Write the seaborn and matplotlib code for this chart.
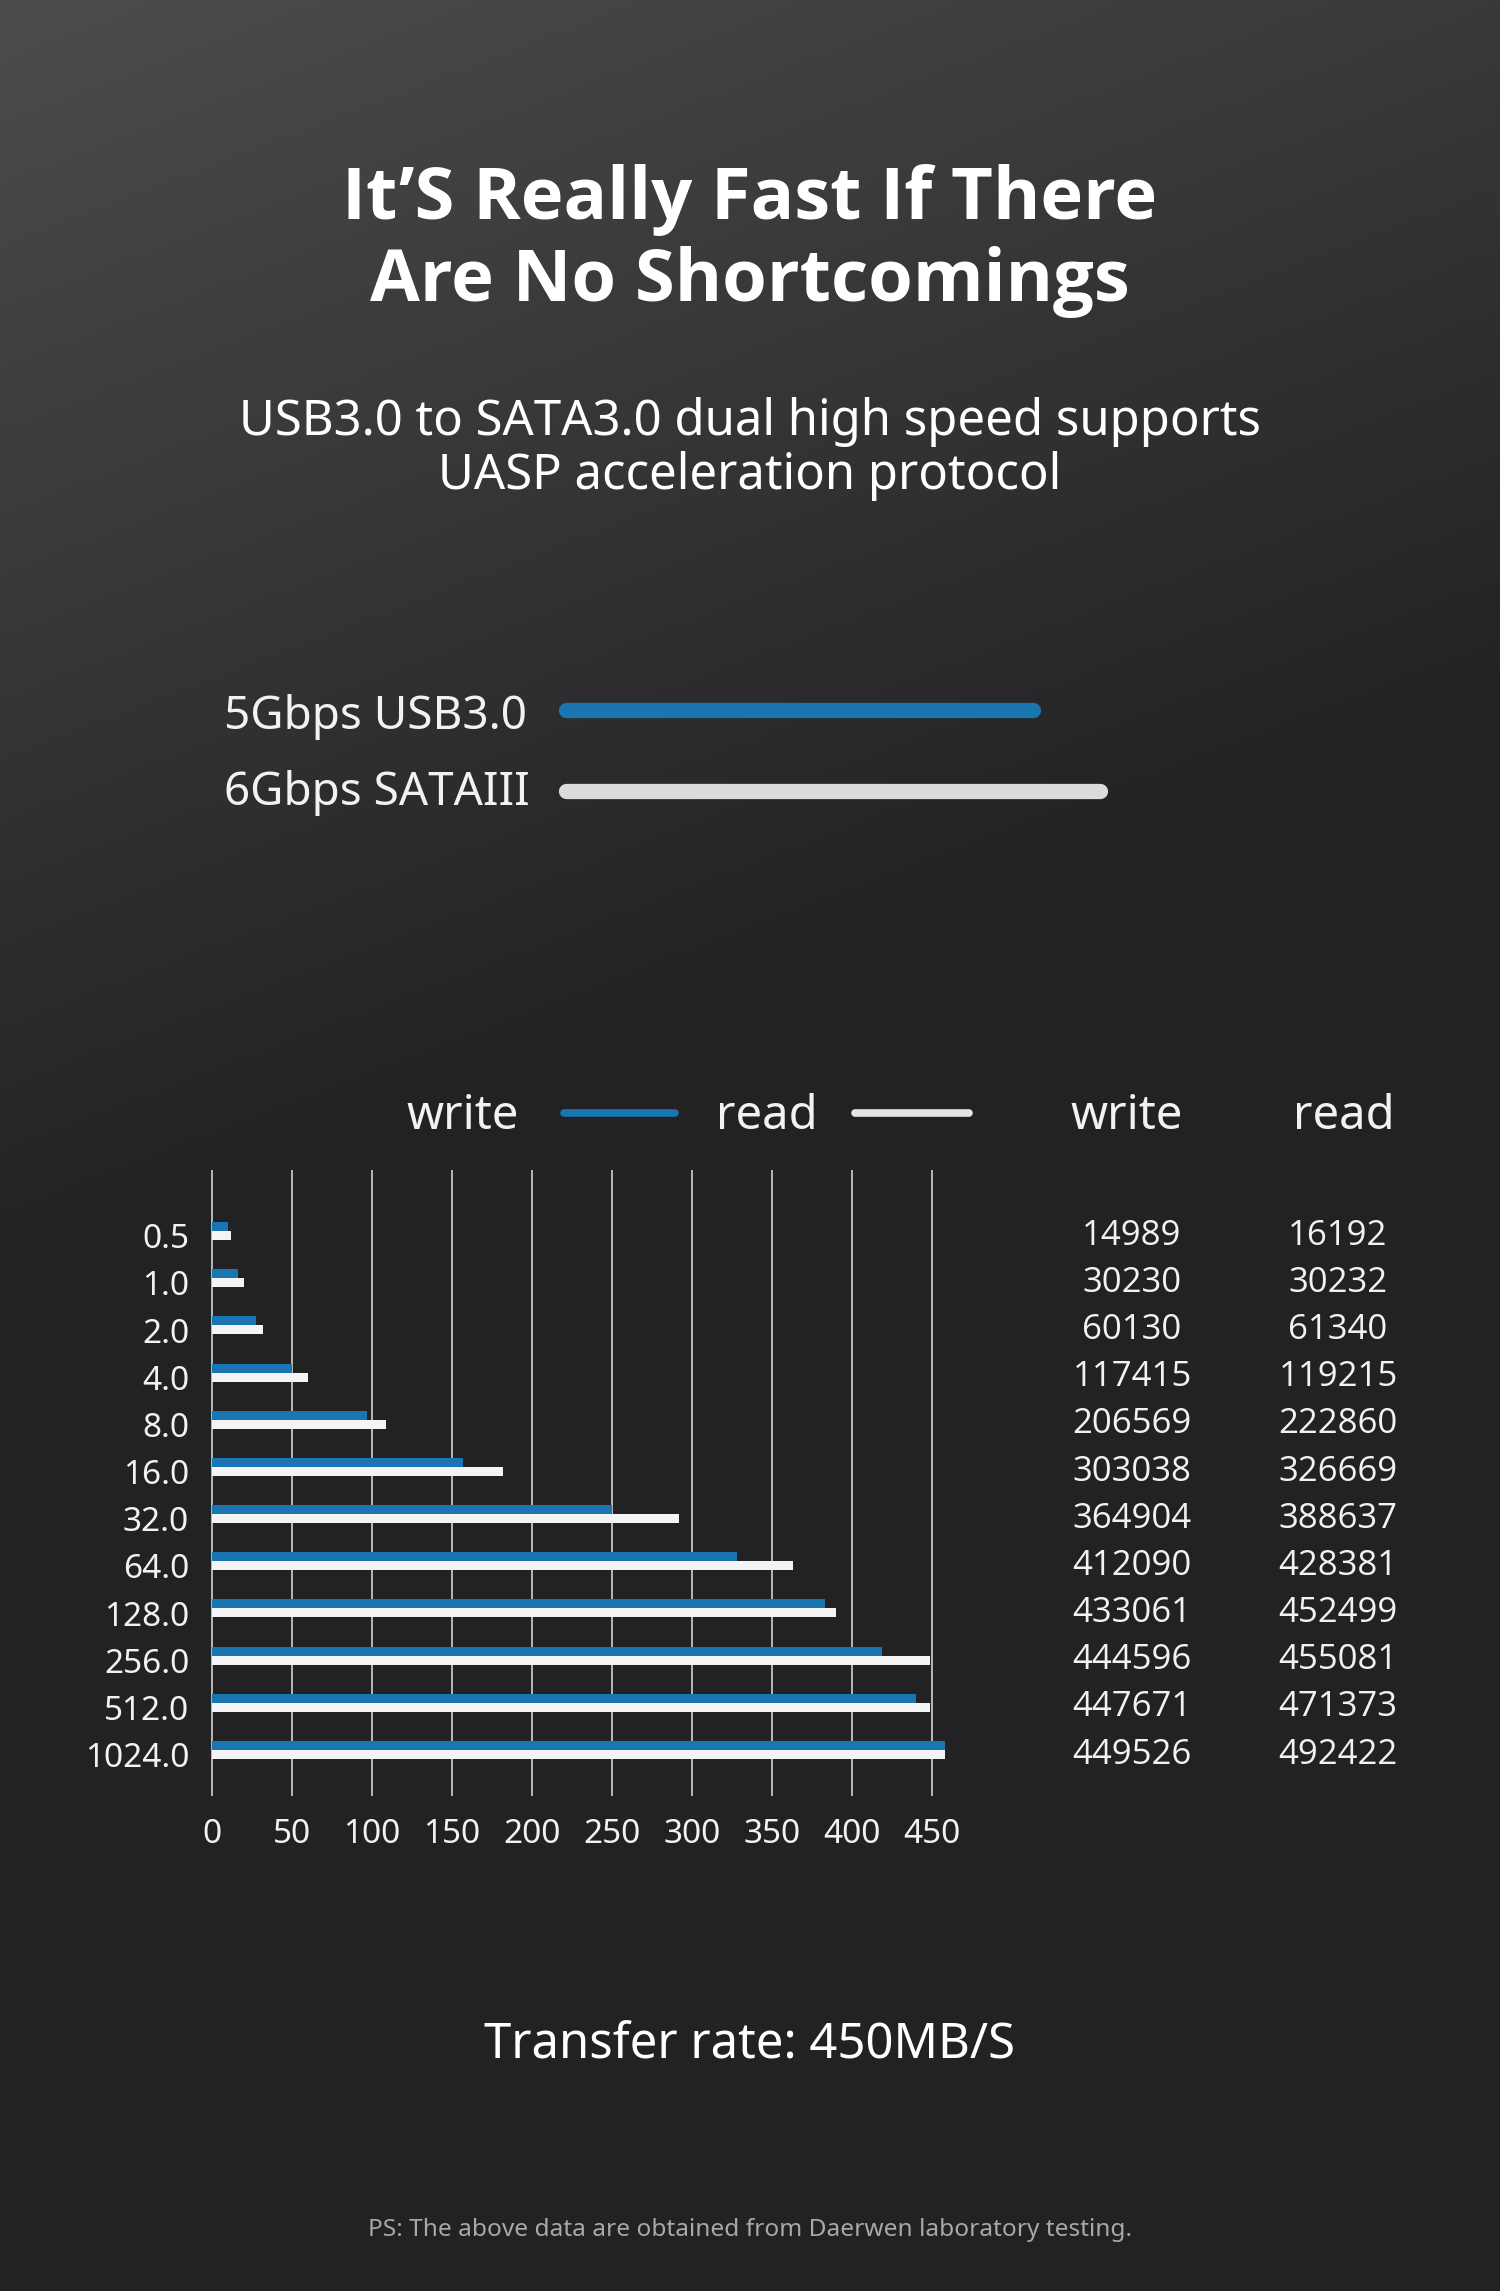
import numpy as np
import pandas as pd
import matplotlib
matplotlib.use("Agg")
import matplotlib.pyplot as plt
import matplotlib.transforms as mtransforms
from matplotlib.lines import Line2D
import seaborn as sns

# ------------------------------------------------------------
# data
# ------------------------------------------------------------
block_sizes = ["0.5", "1.0", "2.0", "4.0", "8.0", "16.0", "32.0",
               "64.0", "128.0", "256.0", "512.0", "1024.0"]
write_speed = [10, 16.5, 27.5, 50, 97, 157, 250, 328, 383, 419, 440, 458]
read_speed = [12, 20, 32, 60, 109, 182, 292, 363, 390, 449, 449, 458]
write_table = [14989, 30230, 60130, 117415, 206569, 303038,
               364904, 412090, 433061, 444596, 447671, 449526]
read_table = [16192, 30232, 61340, 119215, 222860, 326669,
              388637, 428381, 452499, 455081, 471373, 492422]
x_ticks = [0, 50, 100, 150, 200, 250, 300, 350, 400, 450]

BLUE = "#1a76b0"
WHITE = "#f4f4f4"
GRID = "#b8b8b8"
TXT = "#f2f2f2"

W, H = 1500, 2291
DPI = 100

sns.set_theme(style="dark")
plt.rcParams["font.family"] = ["Noto Sans", "DejaVu Sans"]
BOLD_FAMILY = ["Open Sans", "Roboto", "DejaVu Sans"]

fig = plt.figure(figsize=(W / DPI, H / DPI), dpi=DPI)


def fy(py):
    return 1 - py / H


def fx(px):
    return px / W


# ------------------------------------------------------------
# background gradient
# ------------------------------------------------------------
bg = fig.add_axes([0, 0, 1, 1])
yy, xx = np.mgrid[0:1:400j, 0:1:300j]
shade = 34 + 42 * np.clip(1 - (1.8 * yy + 0.45 * xx), 0, 1)
img = np.dstack([shade, shade - 1, shade + 1]) / 255.0
bg.imshow(np.clip(img, 0, 1), extent=[0, 1, 0, 1], aspect="auto", origin="upper")
bg.set_axis_off()

# ------------------------------------------------------------
# headings
# ------------------------------------------------------------
fig.text(0.5, fy(219), "It\u2019S Really Fast If There", ha="center", va="baseline",
         fontsize=52, fontweight="bold", color="white", family=BOLD_FAMILY)
fig.text(0.5, fy(301), "Are No Shortcomings", ha="center", va="baseline",
         fontsize=52, fontweight="bold", color="white", family=BOLD_FAMILY)
fig.text(0.5, fy(435), "USB3.0 to SATA3.0 dual high speed supports", ha="center",
         va="baseline", fontsize=35.3, color="white")
fig.text(0.5, fy(489), "UASP acceleration protocol", ha="center",
         va="baseline", fontsize=35.3, color="white")

# interface legend
fig.text(fx(224), fy(729), "5Gbps USB3.0", ha="left", va="baseline", fontsize=33, color=TXT)
fig.text(fx(224), fy(805), "6Gbps SATAIII", ha="left", va="baseline", fontsize=33, color=TXT)
fig.add_artist(Line2D([fx(566), fx(1033)], [fy(710), fy(710)], color=BLUE, lw=11,
                      solid_capstyle="round"))
fig.add_artist(Line2D([fx(566), fx(1100)], [fy(791), fy(791)], color="#dcdcdc", lw=11,
                      solid_capstyle="round"))

# chart legend
fig.text(fx(463), fy(1129), "write", ha="center", va="baseline", fontsize=34, color=TXT)
fig.text(fx(767), fy(1129), "read", ha="center", va="baseline", fontsize=34, color=TXT)
fig.add_artist(Line2D([fx(564), fx(675)], [fy(1113), fy(1113)], color=BLUE, lw=5.5,
                      solid_capstyle="round"))
fig.add_artist(Line2D([fx(855), fx(969)], [fy(1113), fy(1113)], color="#e6e6e6", lw=5.5,
                      solid_capstyle="round"))

# ------------------------------------------------------------
# bar chart
# ------------------------------------------------------------
df = pd.DataFrame({
    "size": block_sizes * 2,
    "speed": write_speed + read_speed,
    "mode": ["write"] * len(block_sizes) + ["read"] * len(block_sizes),
})

px_per_unit = 1.6
x_lo, x_hi = -3, 465
ax_left = 212 + x_lo * px_per_unit
ax_top, ax_bot = 1170, 1796
ax = fig.add_axes([fx(ax_left), fy(ax_bot),
                   (x_hi - x_lo) * px_per_unit / W, (ax_bot - ax_top) / H])
ax.set_facecolor("none")

sns.barplot(data=df, y="size", x="speed", hue="mode", order=block_sizes,
            hue_order=["write", "read"], palette={"write": BLUE, "read": WHITE},
            orient="h", width=0.38, saturation=1, linewidth=0, legend=False, ax=ax)

row_px = 47.1
ax.set_xlim(x_lo, x_hi)
ax.set_ylim(11 + (ax_bot - 1750) / row_px, -(1231 - ax_top) / row_px)
ax.set_xticks(x_ticks)
ax.set_xticklabels([str(t) for t in x_ticks])
ax.set_yticks(np.arange(len(block_sizes)) + 0.1)
ax.set_yticklabels(block_sizes)
ax.grid(axis="x", color=GRID, linewidth=1.4)
ax.grid(axis="y", visible=False)
ax.set_axisbelow(True)
ax.tick_params(axis="x", length=0, pad=16, labelsize=24, labelcolor=TXT)
ax.tick_params(axis="y", length=0, pad=13, labelsize=24, labelcolor=TXT)
ax.set_xlabel("")
ax.set_ylabel("")
for s in ax.spines.values():
    s.set_visible(False)

# value table to the right
trans = mtransforms.blended_transform_factory(fig.transFigure, ax.transData)
fig.text(fx(1127), fy(1129), "write", ha="center", va="baseline", fontsize=34, color=TXT)
fig.text(fx(1344), fy(1129), "read", ha="center", va="baseline", fontsize=34, color=TXT)
for i, (w, r) in enumerate(zip(write_table, read_table)):
    ax.text(fx(1132), i + 0.1, str(w), transform=trans, ha="center", va="center",
            fontsize=25, color=TXT, family=["Open Sans", "DejaVu Sans"])
    ax.text(fx(1338), i + 0.1, str(r), transform=trans, ha="center", va="center",
            fontsize=25, color=TXT, family=["Open Sans", "DejaVu Sans"])

# ------------------------------------------------------------
# footer
# ------------------------------------------------------------
fig.text(0.5, fy(2057), "Transfer rate: 450MB/S", ha="center", va="baseline",
         fontsize=35.3, color="white")
fig.text(0.5, fy(2236), "PS: The above data are obtained from Daerwen laboratory testing.",
         ha="center", va="baseline", fontsize=17.6, color="#a8a8a8")

fig.savefig("out.png", dpi=DPI)
plt.close(fig)
